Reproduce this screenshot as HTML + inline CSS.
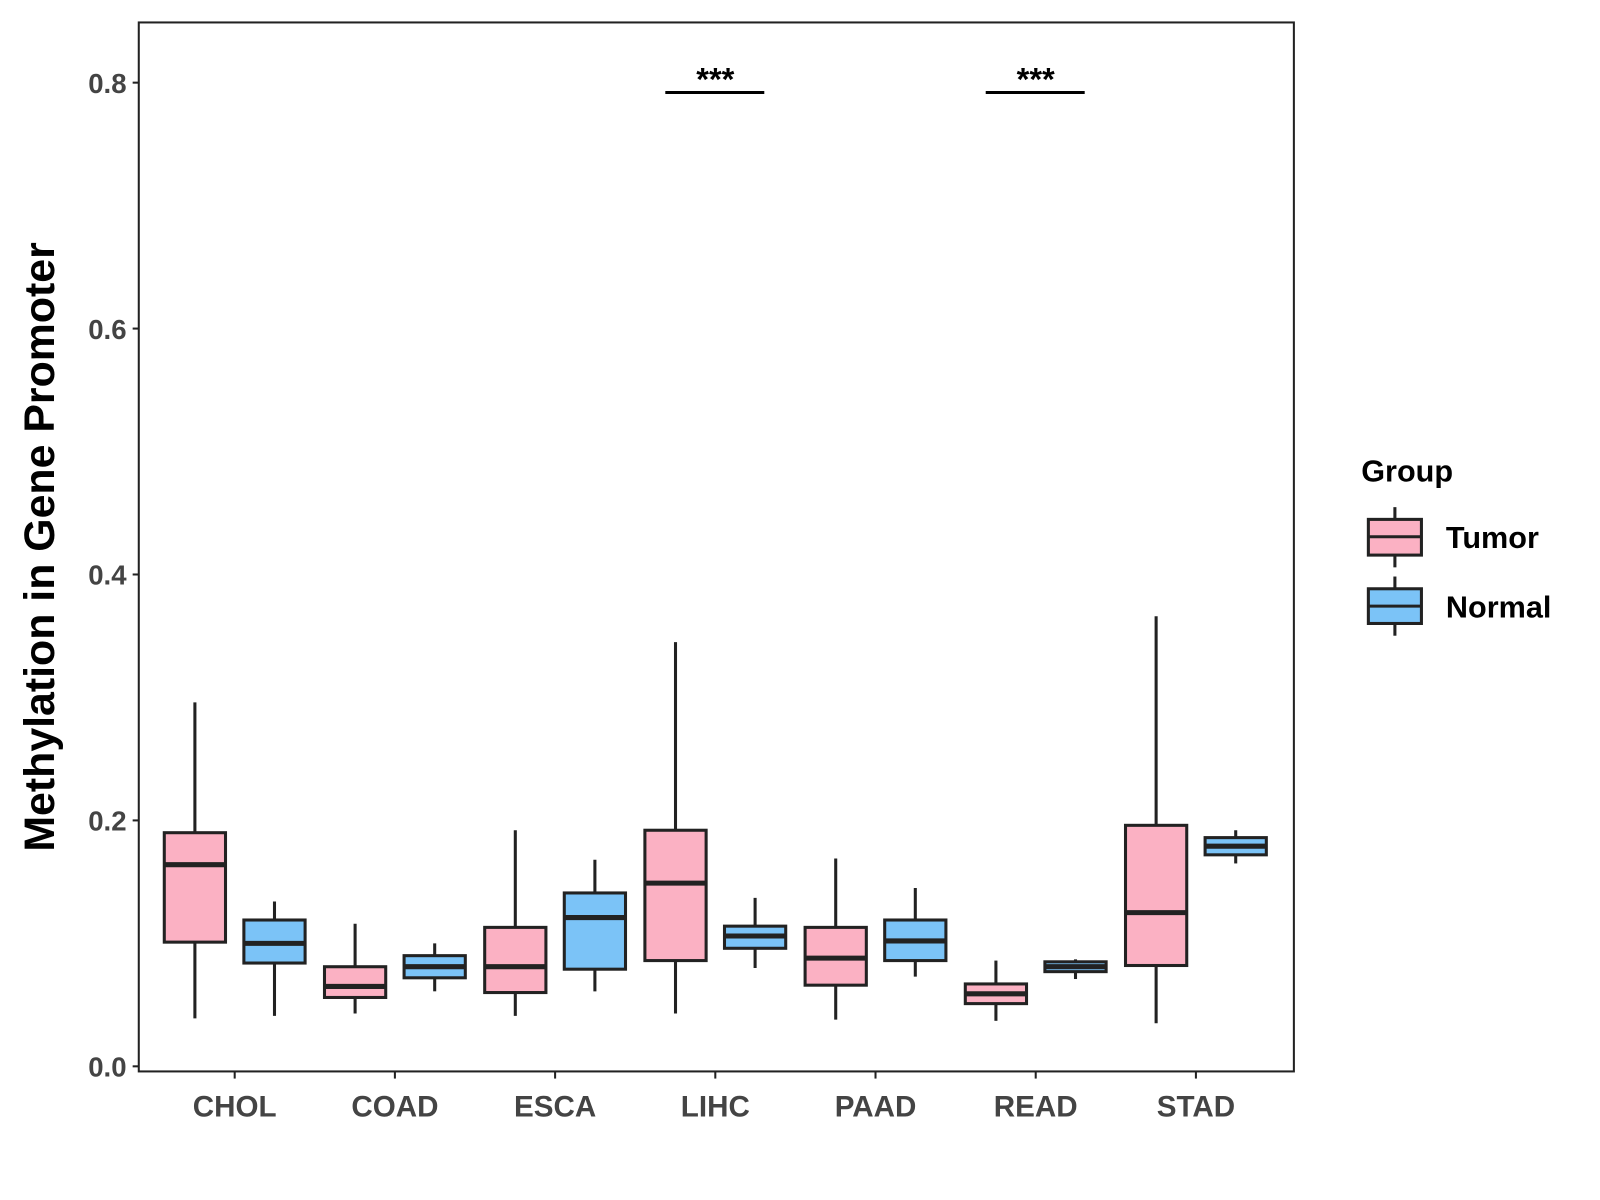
<!DOCTYPE html>
<html><head><meta charset="utf-8"><style>
html,body{margin:0;padding:0;background:#fff}
svg{display:block;font-family:"Liberation Sans",Arial,sans-serif}
</style></head><body>
<svg id="chart" width="1600" height="1200" viewBox="0 0 1568 1176" xmlns="http://www.w3.org/2000/svg">
<rect width="1568" height="1176" fill="#fff"/>
<g id="marks"></g>
<rect x="136" y="22" width="1132" height="1028" fill="none" stroke="#222" stroke-width="2"/>
<text transform="translate(53,536) rotate(-90)" text-anchor="middle" font-size="42" font-weight="bold" fill="#000">Methylation in Gene Promoter</text>
<g>
<text x="1334" y="472" font-size="30" font-weight="bold" fill="#000">Group</text>
<g>
<line x1="1367" y1="497" x2="1367" y2="556" stroke="#222" stroke-width="3"/>
<rect x="1341" y="509" width="52" height="35" fill="#FBB1C3" stroke="#222" stroke-width="3"/>
<line x1="1341" y1="526" x2="1393" y2="526" stroke="#222" stroke-width="3"/>
<text x="1417" y="537" font-size="30" font-weight="bold" fill="#000">Tumor</text>
</g>
<g>
<line x1="1367" y1="565" x2="1367" y2="623" stroke="#222" stroke-width="3"/>
<rect x="1341" y="577" width="52" height="34" fill="#7BC3F7" stroke="#222" stroke-width="3"/>
<line x1="1341" y1="594" x2="1393" y2="594" stroke="#222" stroke-width="3"/>
<text x="1417" y="605" font-size="30" font-weight="bold" fill="#000">Normal</text>
</g>
</g>
</svg>
<script>
const categories = ["CHOL","COAD","ESCA","LIHC","PAAD","READ","STAD"];
const tumorStats = [
 [0.039,0.101,0.164,0.190,0.296],
 [0.043,0.056,0.065,0.081,0.116],
 [0.041,0.060,0.081,0.113,0.192],
 [0.043,0.086,0.149,0.192,0.345],
 [0.038,0.066,0.088,0.113,0.169],
 [0.037,0.051,0.059,0.067,0.086],
 [0.035,0.082,0.125,0.196,0.366]
];
const normalStats = [
 [0.041,0.084,0.100,0.119,0.134],
 [0.061,0.072,0.081,0.090,0.100],
 [0.061,0.079,0.121,0.141,0.168],
 [0.080,0.096,0.106,0.114,0.137],
 [0.073,0.086,0.102,0.119,0.145],
 [0.071,0.077,0.081,0.085,0.087],
 [0.165,0.172,0.179,0.186,0.192]
];
const yTicks = [0.0,0.2,0.4,0.6,0.8];
const yTickLabels = ["0.0","0.2","0.4","0.6","0.8"];
const sigCategories = ["LIHC","READ"];
const sigLabels = ["***","***"];
const sigLevel = 0.792;

const NS="http://www.w3.org/2000/svg";
const g=document.getElementById('marks');
function y(v){return 1045 - v*1205;}
function x(i){return 230 + i*157;}
function mk(t,a,p){const e=document.createElementNS(NS,t);for(const k in a)e.setAttribute(k,a[k]);(p||g).appendChild(e);return e;}
const L="#222";
yTicks.forEach((t,i)=>{
 const tk=mk('line',{x1:130,x2:136,y1:y(t),y2:y(t),stroke:L,'stroke-width':2});
 
 
 const tx=mk('text',{x:124,y:y(t)+10,'text-anchor':'end','font-size':27,'font-weight':'bold',fill:'#444'});
 tx.textContent=yTickLabels[i];
 
 
});
categories.forEach((c,i)=>{
 const tk=mk('line',{x1:x(i),x2:x(i),y1:1050,y2:1057,stroke:L,'stroke-width':2});
 
 
 const tx=mk('text',{x:x(i),y:1094,'text-anchor':'middle','font-size':29,'font-weight':'bold',fill:'#444'});
 tx.textContent=c;
 
 
});
function box(cx,s,fill,name){
 const grp=mk('g',{});
 
 
 mk('line',{x1:cx,x2:cx,y1:y(s[0]),y2:y(s[4]),stroke:L,'stroke-width':3},grp);
 mk('rect',{x:cx-30,y:y(s[3]),width:60,height:y(s[1])-y(s[3]),fill:fill,stroke:L,'stroke-width':3},grp);
 mk('line',{x1:cx-30,x2:cx+30,y1:y(s[2]),y2:y(s[2]),stroke:L,'stroke-width':5},grp);
}
categories.forEach((c,i)=>{
 box(x(i)-39,tumorStats[i],'#FBB1C3','box-tumor-'+c.toLowerCase());
 box(x(i)+39,normalStats[i],'#7BC3F7','box-normal-'+c.toLowerCase());
});
sigCategories.forEach((c,k)=>{
 const i=categories.indexOf(c);
 const ln=mk('line',{x1:x(i)-49,x2:x(i)+48,y1:y(sigLevel),y2:y(sigLevel),stroke:'#000','stroke-width':3});
 
 
 const tx=mk('text',{x:x(i),y:y(sigLevel)-2,'text-anchor':'middle','font-size':32,'font-weight':'bold',fill:'#000'});
 tx.textContent=sigLabels[k];
 
 
});
</script>
</body></html>
